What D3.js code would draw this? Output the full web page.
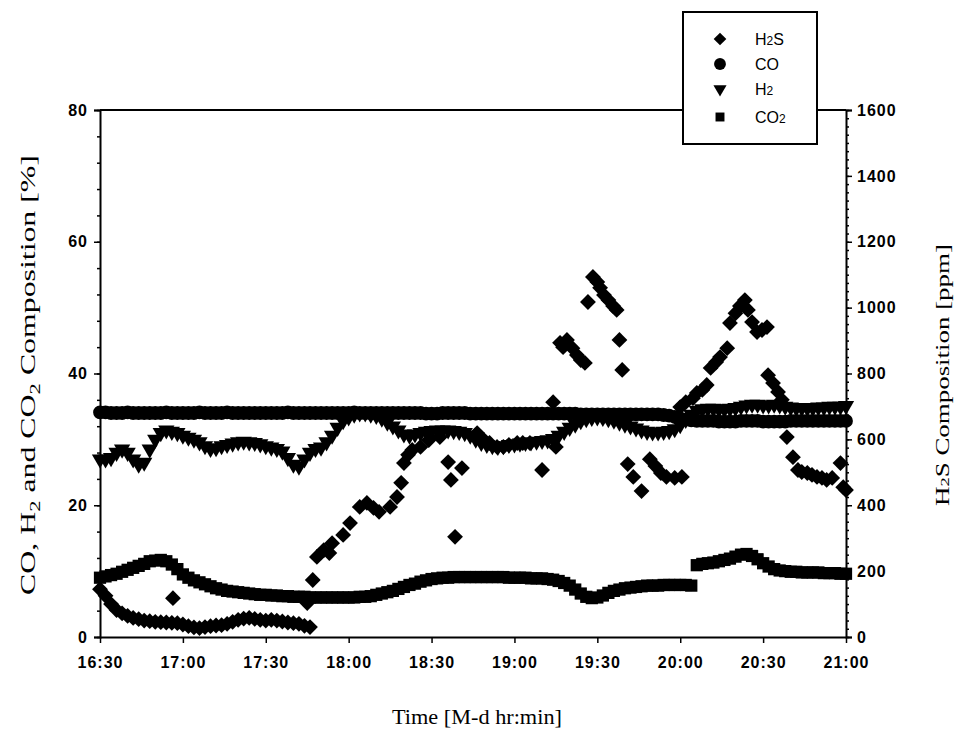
<!DOCTYPE html>
<html>
<head>
<meta charset="utf-8">
<script src="https://cdn.jsdelivr.net/npm/d3@7"></script>
<style>
  body { margin: 0; background: #fff; }
  .tick text { font-family: "Liberation Sans", Arial, sans-serif; font-weight: bold; font-size: 16px; letter-spacing: 1px; fill: #000; }
  .axisTitle { font-family: "Liberation Serif", "Times New Roman", serif; fill: #000; }
  .legendText { font-family: "Liberation Sans", Arial, sans-serif; font-size: 16px; fill: #000; }
</style>
</head>
<body>
<div class="chart"></div>
<script>
// sampling of the three gas series: one reading every 2 minutes from 16:30
var startHour = 16, startMinute = 30, sampleStep = 2;

// CO [%] (circles)
var coValues = [
  34.1,34.1,34.0,34.0,34.0,34.1,34.0,34.0,34.0,34.0,
  34.0,34.0,34.1,34.0,34.0,34.0,34.0,34.0,34.1,34.0,
  34.0,34.0,34.0,34.1,34.0,34.0,34.0,34.0,34.0,34.0,
  34.0,34.0,34.0,34.0,34.1,34.0,34.0,34.0,34.0,34.0,
  34.0,34.0,34.0,34.0,34.0,34.0,34.1,34.0,34.0,34.0,
  34.0,34.0,34.0,34.0,34.0,34.0,34.0,34.0,34.0,33.9,
  33.9,33.9,34.0,34.0,34.0,34.0,34.0,33.9,33.9,33.9,
  33.9,33.9,33.9,33.9,33.9,33.9,33.9,33.9,33.9,33.9,
  33.9,33.9,33.9,33.9,33.9,33.9,33.9,33.8,33.8,33.8,
  33.8,33.8,33.8,33.8,33.8,33.8,33.8,33.8,33.8,33.8,
  33.8,33.8,33.7,33.6,33.4,33.2,33.0,32.9,32.8,32.8,
  32.8,32.8,32.7,32.7,32.7,32.7,32.8,32.8,32.8,32.8,
  32.7,32.7,32.7,32.7,32.7,32.8,32.8,32.8,32.8,32.8,
  32.8,32.8,32.8,32.8,32.8,32.8
];

// H2 [%] (down triangles)
var h2Values = [
  27.0,27.0,27.2,28.0,28.5,28.0,27.0,26.2,26.5,28.5,
  30.0,31.0,31.4,31.2,31.0,30.6,30.3,30.0,29.6,29.0,
  28.6,28.7,29.0,29.2,29.4,29.6,29.7,29.6,29.5,29.3,
  29.0,28.8,28.6,28.2,27.2,26.2,25.9,27.0,28.0,28.6,
  28.8,29.6,30.6,31.8,32.8,33.4,33.8,34.0,34.0,33.8,
  33.6,33.2,32.6,32.0,31.4,30.8,30.6,30.8,31.0,31.2,
  31.3,31.4,31.4,31.4,31.3,31.2,31.0,30.6,30.0,29.5,
  29.2,29.0,28.9,29.0,29.2,29.3,29.4,29.5,29.6,29.7,
  29.8,29.9,30.1,30.6,31.2,31.8,32.3,32.8,33.1,33.3,
  33.4,33.3,33.1,32.9,32.6,32.3,32.0,31.7,31.4,31.2,
  31.1,31.1,31.2,31.3,31.6,32.2,33.0,33.8,34.4,34.6,
  34.7,34.7,34.6,34.6,34.7,34.8,35.0,35.2,35.3,35.3,
  35.2,35.2,35.3,35.2,35.0,34.9,34.8,34.8,34.8,34.8,
  34.9,34.9,35.0,35.0,35.0,35.1
];

// CO2 [%] (squares)
var co2Values = [
  9.0,9.2,9.4,9.6,9.9,10.2,10.5,10.8,11.1,11.5,
  11.6,11.7,11.5,11.0,10.3,9.5,9.0,8.6,8.3,8.0,
  7.7,7.4,7.2,7.0,6.9,6.8,6.7,6.6,6.5,6.4,
  6.4,6.3,6.3,6.2,6.2,6.1,6.1,6.1,6.0,6.0,
  6.0,6.0,6.0,6.0,6.0,6.0,6.0,6.1,6.1,6.2,
  6.4,6.6,6.8,7.0,7.3,7.6,7.9,8.1,8.4,8.6,
  8.8,8.9,9.0,9.0,9.1,9.1,9.1,9.1,9.1,9.1,
  9.1,9.1,9.1,9.1,9.0,9.0,9.0,9.0,8.9,8.9,
  8.9,8.8,8.7,8.5,8.2,7.8,7.2,6.6,6.1,5.9,
  6.0,6.3,6.7,7.0,7.2,7.4,7.5,7.6,7.7,7.8,
  7.8,7.8,7.9,7.9,7.9,7.9,7.9,7.8,10.9,11.1,
  11.2,11.3,11.5,11.7,11.9,12.2,12.5,12.6,12.3,11.8,
  11.2,10.7,10.3,10.1,10.0,9.9,9.9,9.8,9.8,9.8,
  9.8,9.7,9.7,9.7,9.6,9.6
];

// H2S [ppm] (diamonds): minutes after 16:30 and reading
var h2sMinutes = [
  0,2,4,6,8,10,12,14,16,18,20,22,24,26,26.4,28,30,32,34,36,38,40,42,44,46,48,50,52,54,56,58,60,62,64,66,68,70,72,74,75,76,
  77,78.5,81,83,84,88,90.5,94,96.6,99,101,105,107.5,109,110,111.5,113,116,119,123,126,127,128.5,131,
  136.5,139,141,143.7,146,148,151,153,155.6,160,164,165,
  166.5,167.6,169,171,172.6,174,175.5,176.6,178.4,180,181,182.4,184,185.7,187,188,189,
  191,193,196,199,201,203,205,208,210,210.6,212,214.6,216,218,219.6,221,223,224.4,227,228,230,231.6,233.4,234.5,
  236,237.8,239.6,241.4,241.8,243.6,245.4,246.8,248.6,250.8,252.6,254,256,257.7,259.5,261.3,263,265,268,269,270
];
var h2sPpm = [
  145,125,100,82,72,64,58,54,50,48,46,45,44,43,118,42,38,33,29,27,30,33,35,36,40,46,52,56,58,55,52,50,52,50,47,44,42,40,34,103,30,
  173,243,264,255,285,310,346,395,407,392,380,395,425,468,528,553,568,577,598,607,531,477,304,513,
  619,598,589,577,577,583,589,589,589,507,713,577,
  893,880,902,877,856,841,832,1017,1093,1078,1060,1038,1023,1005,993,902,811,
  525,486,443,540,519,498,486,483,698,486,713,725,741,750,765,817,835,850,877,953,983,1005,1023,993,
  956,926,932,941,795,771,744,720,607,546,507,501,498,492,486,483,477,483,528,455,446
];

var leftTicks = [0, 20, 40, 60, 80];
var rightTicks = [0, 200, 400, 600, 800, 1000, 1200, 1400, 1600];

var svgWidth = 959;
var svgHeight = 732;
var margin = { top: 110, right: 113, bottom: 95, left: 100 };
var width = svgWidth - margin.left - margin.right;
var height = svgHeight - margin.top - margin.bottom;

var svg = d3.select(".chart")
  .append("svg")
  .attr("width", svgWidth)
  .attr("height", svgHeight)
  .style("display", "block");

var chartGroup = svg.append("g")
  .attr("transform", `translate(${margin.left}, ${margin.top})`);

var t0 = new Date(2000, 0, 1, startHour, startMinute);
function atMinute(m) { return new Date(t0.getTime() + m * 60000); }

var xScale = d3.scaleTime()
  .domain([atMinute(0), atMinute(270)])
  .range([0, width]);
var yLeft = d3.scaleLinear().domain([0, 80]).range([height, 0]);
var yRight = d3.scaleLinear().domain([0, 1600]).range([height, 0]);

var sampleTimes = coValues.map((v, i) => atMinute(i * sampleStep));

// markers
var circleSym = d3.symbol(d3.symbolCircle, 150);
var squareSym = d3.symbol(d3.symbolSquare, 150);
var diamondSym = d3.symbol(d3.symbolSquare, 125);
var triSym = d3.symbol(d3.symbolTriangle, 115);

function drawSeries(values, times, scale, sym, rot) {
  chartGroup.append("g")
    .selectAll("path")
    .data(values)
    .enter()
    .append("path")
    .attr("d", sym)
    .attr("fill", "#000")
    .attr("transform", (d, i) => `translate(${xScale(times[i])},${scale(d)}) rotate(${rot})`);
}

drawSeries(co2Values, sampleTimes, yLeft, squareSym, 0);
drawSeries(coValues, sampleTimes, yLeft, circleSym, 0);
drawSeries(h2Values, sampleTimes, yLeft, triSym, 180);
drawSeries(h2sPpm, h2sMinutes.map(atMinute), yRight, diamondSym, 45);

// axes
function styleAxis(g) {
  g.select(".domain").attr("stroke", "#000").attr("stroke-width", 2);
  g.selectAll(".tick line").attr("stroke", "#000").attr("stroke-width", 1.5);
}

chartGroup.append("g")
  .call(d3.axisLeft(yLeft).tickValues(d3.range(0, 81, 4)).tickSize(3).tickFormat(""))
  .call(g => g.select(".domain").remove())
  .call(styleAxis);
chartGroup.append("g")
  .call(d3.axisLeft(yLeft).tickValues(leftTicks).tickSize(6).tickPadding(6))
  .call(styleAxis);

chartGroup.append("g")
  .attr("transform", `translate(${width},0)`)
  .call(d3.axisRight(yRight).tickValues(d3.range(0, 1601, 25)).tickSize(3).tickFormat(""))
  .call(g => g.select(".domain").remove())
  .call(styleAxis);
chartGroup.append("g")
  .attr("transform", `translate(${width},0)`)
  .call(d3.axisRight(yRight).tickValues(rightTicks).tickFormat(d3.format("d")).tickSize(6).tickPadding(5))
  .call(styleAxis);

chartGroup.append("g")
  .attr("transform", `translate(0,${height})`)
  .call(d3.axisBottom(xScale)
    .ticks(d3.timeMinute.every(30))
    .tickFormat(d3.timeFormat("%H:%M"))
    .tickSize(6)
    .tickSizeOuter(0)
    .tickPadding(14))
  .call(styleAxis);

// top frame line
chartGroup.append("line")
  .attr("x1", 0).attr("x2", width)
  .attr("y1", 0).attr("y2", 0)
  .attr("stroke", "#000").attr("stroke-width", 2);

// axis titles, stretched to the length seen in the scan
function stretch(sel, target) {
  var len = sel.node().getComputedTextLength();
  var anchor = sel.attr("x") || 0;
  sel.attr("transform", `translate(${anchor},0) scale(${target / len},1) translate(${-anchor},0)`);
}

var leftTitle = svg.append("g")
  .attr("transform", "translate(28,375) rotate(-90)")
  .append("text")
  .attr("class", "axisTitle")
  .attr("text-anchor", "middle")
  .attr("y", 7)
  .style("font-size", "21px");
leftTitle.append("tspan").text("CO, H");
leftTitle.append("tspan").attr("dy", 5).style("font-size", "15px").text("2");
leftTitle.append("tspan").attr("dy", -5).text(" and CO");
leftTitle.append("tspan").attr("dy", 5).style("font-size", "15px").text("2");
leftTitle.append("tspan").attr("dy", -5).text(" Composition [%]");
stretch(leftTitle, 440);

var rightTitle = svg.append("g")
  .attr("transform", "translate(943,375) rotate(-90)")
  .append("text")
  .attr("class", "axisTitle")
  .attr("text-anchor", "middle")
  .attr("y", 6)
  .style("font-size", "19px");
rightTitle.append("tspan").text("H");
rightTitle.append("tspan").style("font-size", "13px").text("2");
rightTitle.append("tspan").text("S Composition [ppm]");
stretch(rightTitle, 262);

var xTitle = svg.append("text")
  .attr("class", "axisTitle")
  .attr("text-anchor", "middle")
  .attr("x", 477)
  .attr("y", 724)
  .style("font-size", "20px")
  .text("Time [M-d hr:min]");
stretch(xTitle, 170);

// legend
var legend = svg.append("g");
legend.append("rect")
  .attr("x", 683).attr("y", 12)
  .attr("width", 134).attr("height", 132)
  .attr("fill", "#fff")
  .attr("stroke", "#000")
  .attr("stroke-width", 2);

var legendRows = [
  { name: ["H", "2", "S"], sym: d3.symbol(d3.symbolSquare, 80), rot: 45, y: 39 },
  { name: ["CO"], sym: d3.symbol(d3.symbolCircle, 110), rot: 0, y: 64 },
  { name: ["H", "2"], sym: d3.symbol(d3.symbolTriangle, 75), rot: 180, y: 89 },
  { name: ["CO", "2"], sym: d3.symbol(d3.symbolSquare, 80), rot: 0, y: 117 }
];
legendRows.forEach(function(row) {
  legend.append("path")
    .attr("d", row.sym)
    .attr("fill", "#000")
    .attr("transform", `translate(720,${row.y}) rotate(${row.rot})`);
  var txt = legend.append("text")
    .attr("class", "legendText")
    .attr("x", 755)
    .attr("y", row.y + 6);
  row.name.forEach(function(part, i) {
    txt.append("tspan")
      .style("font-size", i % 2 === 1 ? "12px" : "16px")
      .text(part);
  });
});
</script>
</body>
</html>
